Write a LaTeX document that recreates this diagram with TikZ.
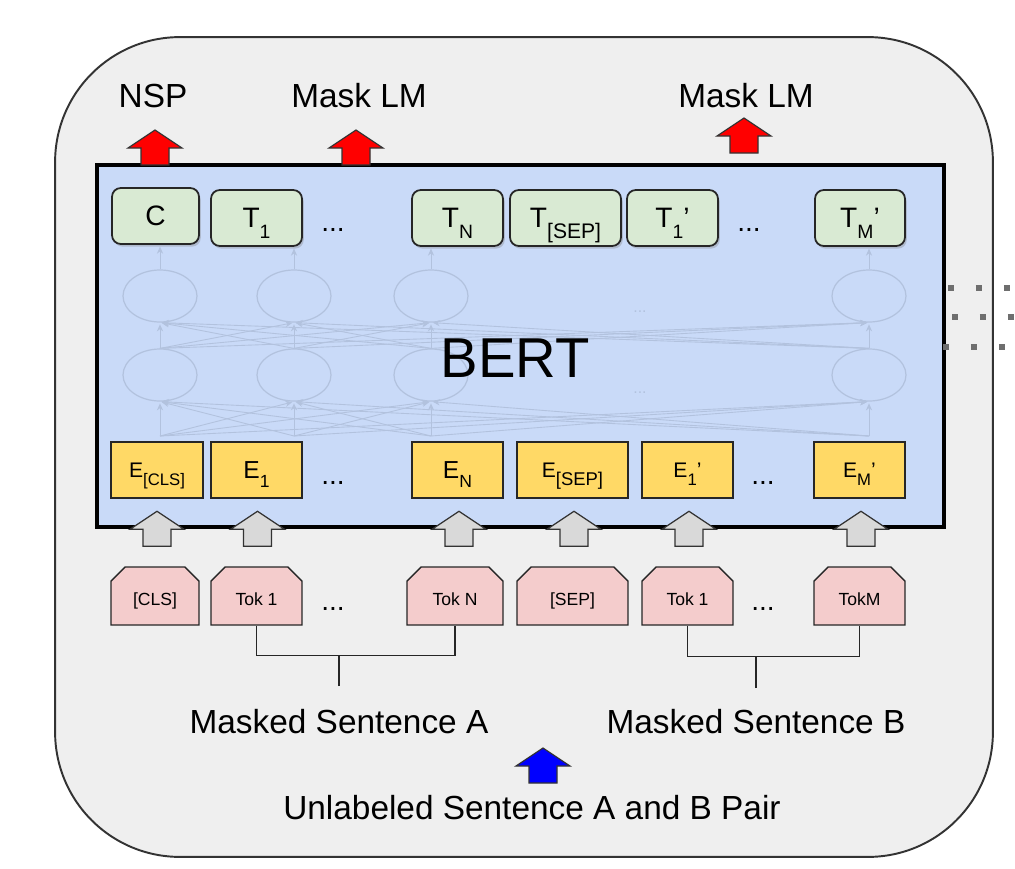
\documentclass[tikz,border=0pt]{standalone}
\usepackage{fontspec}
\setmainfont{Liberation Sans}
\usetikzlibrary{arrows.meta,shapes.misc,shapes.geometric,shadows}

\definecolor{panelgray}{HTML}{EFEFEF}
\definecolor{bertblue}{HTML}{C9DAF8}
\definecolor{outgreen}{HTML}{D9EAD3}
\definecolor{embyellow}{HTML}{FFD966}
\definecolor{tokpink}{HTML}{F4CCCC}
\definecolor{arrgray}{HTML}{D9D9D9}
\definecolor{faint}{HTML}{B2C2DE}
\definecolor{dotgray}{HTML}{6E6E6E}

\newcommand{\lowsub}[2][11]{\raisebox{-0.38em}[0pt][0pt]{\fontsize{#1}{#1}\selectfont #2}}

\begin{document}
\begin{tikzpicture}[x=0.02cm, y=-0.02cm,
  panel/.style={draw=black!80, line width=1.1pt, fill=panelgray, rounded corners=2.5cm, minimum width=18.76cm, minimum height=16.4cm},
  bertbox/.style={draw, line width=2.4pt, fill=bertblue, minimum width=16.94cm, minimum height=7.24cm},
  outbox/.style={draw=black!85, line width=1pt, fill=outgreen, rounded corners=5pt, minimum width=1.82cm, minimum height=1.12cm, inner sep=0pt, font=\fontsize{16}{18}\selectfont, drop shadow={shadow xshift=1pt, shadow yshift=-1.5pt, opacity=0.35}},
  embbox/.style={draw=black!85, line width=1pt, fill=embyellow, minimum width=1.82cm, minimum height=1.12cm, inner sep=0pt, font=\fontsize{14}{16}\selectfont},
  tokbox/.style={chamfered rectangle, chamfered rectangle corners={north west,north east}, chamfered rectangle xsep=4.5pt, draw=black!85, line width=0.8pt, fill=tokpink, minimum width=1.82cm, minimum height=1.16cm, inner sep=0pt, text height=11pt, text depth=0pt, font=\fontsize{10}{12}\selectfont},
  hid/.style={ellipse, draw=faint, line width=0.7pt, minimum width=1.48cm, minimum height=1.04cm, inner sep=0pt},
  mesh/.style={draw=faint, line width=0.5pt, -{Stealth[length=4pt, width=3.5pt]}, shorten >=1pt},
  lbl/.style={font=\fontsize{19}{22}\selectfont, inner sep=0pt},
  dots/.style={font=\fontsize{16}{18}\selectfont, inner sep=0pt},
  brk/.style={draw=black!85, line width=0.8pt},
  dotlink/.style={draw=dotgray, line width=3.4pt, dash pattern=on 3.4pt off 12.5pt},
  garr/.style={draw=black!80, line width=0.7pt, fill=arrgray},
  rarr/.style={draw=black!80, line width=0.7pt, fill=red},
  barr/.style={draw=black!80, line width=0.7pt, fill=blue},
  blockup/.pic={\path[pic actions] (-14,0) -- (-14,-17) -- (-27,-17) -- (0,-35) -- (27,-17) -- (14,-17) -- (14,0) -- cycle;}]
\path[use as bounding box, fill=white] (0,0) rectangle (1015,869);
\node[panel] (pnl) at (524,447) {};
\node[bertbox] (bert) at (520.5,346) {};

% hidden layers
\node[hid] (u1) at (160,296) {}; \node[hid] (u2) at (294,296) {};
\node[hid] (u3) at (431,296) {}; \node[hid] (u4) at (869,296) {};
\node[hid] (l1) at (160,375) {}; \node[hid] (l2) at (294,375) {};
\node[hid] (l3) at (431,375) {}; \node[hid] (l4) at (869,375) {};
\coordinate (b1) at (160,436); \coordinate (b2) at (294,436);
\coordinate (b3) at (431,436); \coordinate (b4) at (869,436);
\node[font=\fontsize{9}{9}\selectfont, text=faint] (hdots1) at (640,312) {...};
\node[font=\fontsize{9}{9}\selectfont, text=faint] (hdots2) at (640,393) {...};
\foreach \i in {1,...,4}{
  \foreach \j in {1,...,4}{
    \draw[mesh] (b\i) -- (l\j.south);
    \draw[mesh] (l\i.north) -- (u\j.south);
  }
}
\node[font=\fontsize{32}{36}\selectfont, inner sep=0pt] (bertlbl) at (515,358) {BERT};

% outputs
\node[outbox, minimum width=1.74cm] (tc) at (155.5,216) {C};
\node[outbox] (t1) at (256.5,218) {T\lowsub{1}};
\node[dots] (tdots1) at (333,230) {...};
\node[outbox] (tn) at (457.5,218) {T\lowsub{N}};
\node[outbox, minimum width=2.22cm] (tsep) at (565.5,218) {T\lowsub[12]{[SEP]}};
\node[outbox] (t1b) at (672.5,218) {T\lowsub{1}’};
\node[dots] (tdots2) at (749,230) {...};
\node[outbox, minimum width=1.8cm] (tm) at (860,218) {T\lowsub{M}’};
\draw[mesh] (u1.north) -- (u1.north |- tc.south);
\draw[mesh] (u2.north) -- (u2.north |- t1.south);
\draw[mesh] (u3.north) -- (u3.north |- tn.south);
\draw[mesh] (u4.north) -- (u4.north |- tm.south);

% embeddings
\node[embbox, minimum width=1.84cm, font=\fontsize{12}{14}\selectfont] (ecls) at (157,470) {E\lowsub[9.5]{[CLS]}};
\node[embbox] (e1) at (256.5,470) {E\lowsub[10]{1}};
\node[dots] (edots1) at (333,483) {...};
\node[embbox] (en) at (457.5,470) {E\lowsub[10]{N}};
\node[embbox, minimum width=2.22cm, font=\fontsize{12}{14}\selectfont] (esep) at (572.5,470) {E\lowsub[10.5]{[SEP]}};
\node[embbox, font=\fontsize{12}{14}\selectfont] (e1b) at (687.5,470) {E\lowsub[9.5]{1}’};
\node[dots] (edots2) at (763,483) {...};
\node[embbox, font=\fontsize{12}{14}\selectfont] (em) at (859.5,470) {E\lowsub[9.5]{M}’};

% tokens
\node[tokbox, minimum width=1.76cm] (kcls) at (155,596) {[CLS]};
\node[tokbox] (k1) at (256.5,596) {Tok 1};
\node[dots] (kdots1) at (333,609) {...};
\node[tokbox, minimum width=1.92cm] (kn) at (455,596) {Tok N};
\node[tokbox, minimum width=2.22cm] (ksep) at (572.5,596) {[SEP]};
\node[tokbox] (k1b) at (687.5,596) {Tok 1};
\node[dots] (kdots2) at (763,609) {...};
\node[tokbox] (km) at (859.5,596) {TokM};

% input arrows
\pic[garr] at ([xshift=0.04cm, yshift=0.4cm]kcls.north) {blockup};
\pic[garr] at ([xshift=0.02cm, yshift=0.4cm]k1.north) {blockup};
\pic[garr] at ([xshift=0.08cm, yshift=0.4cm]kn.north) {blockup};
\pic[garr] at ([xshift=0.03cm, yshift=0.4cm]ksep.north) {blockup};
\pic[garr] at ([xshift=0.03cm, yshift=0.4cm]k1b.north) {blockup};
\pic[garr] at ([xshift=0.03cm, yshift=0.4cm]km.north) {blockup};

% sentences
\coordinate (sa) at (339,686);
\coordinate (sb) at (756,688);
\draw[brk] (k1.south) -- ++(0,30) -| (kn.south);
\draw[brk] (sa) -- ++(0,-31);
\draw[brk] (k1b.south) -- ++(0,31) -| (km.south);
\draw[brk] (sb) -- ++(0,-32);
\node[lbl] (senta) at (339,722) {Masked Sentence A};
\node[lbl] (sentb) at (756,722) {Masked Sentence B};
\pic[barr] at (543,783) {blockup};
\node[lbl] (pair) at (532,808) {Unlabeled Sentence A and B Pair};

% heads
\pic[rarr] at (155,165) {blockup};
\pic[rarr] at (356,165) {blockup};
\pic[rarr] at (744,153) {blockup};
\node[lbl] (nsp) at (153,96) {NSP};
\node[lbl] (mlm1) at (359,96) {Mask LM};
\node[lbl] (mlm2) at (746,96) {Mask LM};

% links to the next panel
\coordinate (d1a) at (948,288); \coordinate (d1b) at (1015,288);
\coordinate (d2a) at (952,317); \coordinate (d2b) at (1015,317);
\coordinate (d3a) at (943,347); \coordinate (d3b) at (1015,347);
\draw[dotlink] (d1a) -- (d1b);
\draw[dotlink] (d2a) -- (d2b);
\draw[dotlink] (d3a) -- (d3b);
\end{tikzpicture}
\end{document}
